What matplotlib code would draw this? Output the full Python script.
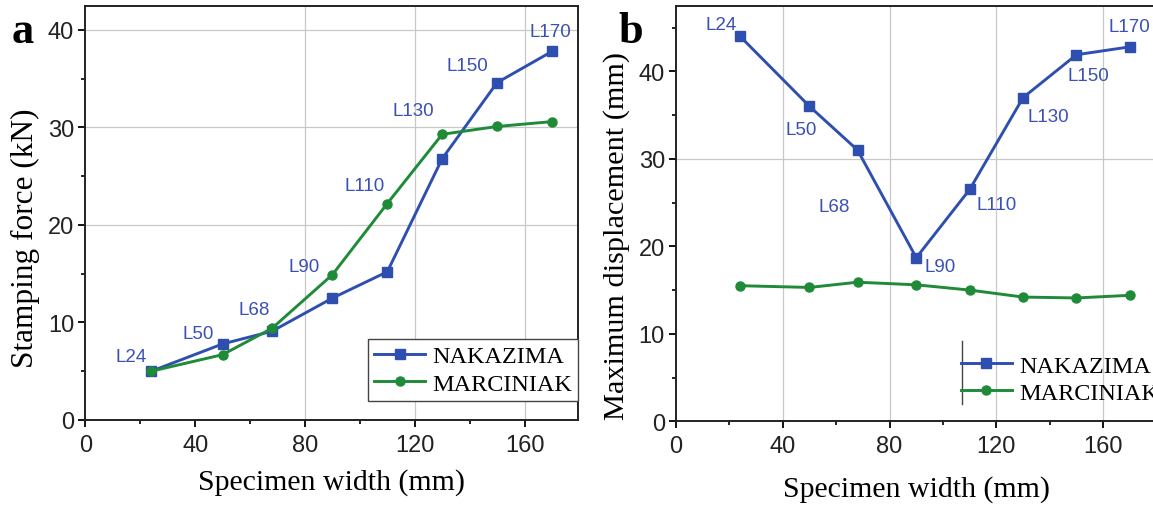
import numpy as np
import matplotlib.pyplot as plt
from matplotlib.ticker import MultipleLocator

# Input data
width = [24, 50, 68, 90, 110, 130, 150, 170]
labels = ['L24', 'L50', 'L68', 'L90', 'L110', 'L130', 'L150', 'L170']
force_nak = [5.0, 7.8, 9.1, 12.5, 15.2, 26.8, 34.6, 37.8]
force_mar = [5.0, 6.7, 9.4, 14.9, 22.2, 29.3, 30.1, 30.6]
disp_nak = [44.0, 36.0, 31.0, 18.7, 26.5, 37.0, 41.9, 42.8]
disp_mar = [15.5, 15.3, 15.9, 15.6, 15.0, 14.2, 14.1, 14.4]

# label offsets (pixels) from the NAKAZIMA points
off_a = [(-20, 15), (-24, 10), (-18, 22), (-28, 32), (-23, 86), (-29, 48), (-30, 17), (-2, 20)]
off_b = [(-19, 12), (-8, -23), (-23, -56), (24, -9), (27, -15), (25, -19), (12, -21), (-1, 20)]

blue = '#2f4fb0'
green = '#1f8a38'
lblue = '#3a50b4'
sans = 'Liberation Sans'
serif = 'Liberation Serif'

fig = plt.figure(figsize=(11.53, 5.06), dpi=100)
ax1 = fig.add_axes([0.074, 0.168, 0.4276, 0.819])
ax2 = fig.add_axes([0.5863, 0.1654, 0.4168, 0.8213])


def style(ax, ymax, minor_y, xpad):
    ax.set_xlim(0, 180 if ax is ax2 else 179.6)
    ax.set_ylim(0, ymax)
    ax.xaxis.set_major_locator(MultipleLocator(40))
    ax.xaxis.set_minor_locator(MultipleLocator(20))
    ax.yaxis.set_major_locator(MultipleLocator(10))
    ax.yaxis.set_minor_locator(MultipleLocator(minor_y))
    ax.tick_params(which='major', direction='out', length=5, width=1.3,
                   labelsize=17, pad=3)
    ax.tick_params(axis='x', which='major', pad=5)
    ax.tick_params(which='minor', direction='out', length=3, width=1.2)
    for t in ax.get_xticklabels() + ax.get_yticklabels():
        t.set_fontfamily(sans)
        t.set_color('#222222')
    for s in ax.spines.values():
        s.set_linewidth(1.4)
        s.set_color('#222222')
    ax.set_xlabel('Specimen width (mm)', fontfamily=serif, fontsize=21.5, labelpad=xpad)


# Panel a
for g in [80, 120, 160]:
    ax1.axvline(g, color='#c8c8c8', lw=0.9, zorder=0)
for g in [20, 30, 40]:
    ax1.axhline(g, color='#c8c8c8', lw=0.9, zorder=0)
ax1.plot(width, force_nak, '-s', color=blue, lw=2.1, ms=6.5, label='NAKAZIMA', zorder=3)
ax1.plot(width, force_mar, '-o', color=green, lw=2.1, ms=6.5, label='MARCINIAK', zorder=3)
for i in range(len(width)):
    ax1.annotate(labels[i], (width[i], force_nak[i]), xytext=off_a[i],
                 textcoords='offset pixels', ha='center', va='center',
                 color=lblue, fontsize=13.5, fontfamily=sans)
style(ax1, 42.5, 5, 9)
ax1.set_ylabel('Stamping force (kN)', fontfamily=serif, fontsize=22.5)
ax1.yaxis.set_label_coords(-0.092, 0.442)
leg1 = ax1.legend(loc='lower right', bbox_to_anchor=(1.0, 0.046), borderaxespad=0,
                  fancybox=False, edgecolor='#444444', framealpha=1,
                  prop={'family': serif, 'size': 17.5}, handlelength=2.1,
                  handletextpad=0.3, borderpad=0.25, labelspacing=0.22)
leg1.get_frame().set_linewidth(1.0)

# Panel b
for g in [40, 80, 120, 160]:
    ax2.axvline(g, color='#c8c8c8', lw=0.9, zorder=0)
ax2.axhline(30, color='#c8c8c8', lw=0.9, zorder=0)
ax2.plot(width, disp_nak, '-s', color=blue, lw=2.1, ms=6.5, label='NAKAZIMA', zorder=3)
ax2.plot(width, disp_mar, '-o', color=green, lw=2.1, ms=6.5, label='MARCINIAK', zorder=3)
for i in range(len(width)):
    ax2.annotate(labels[i], (width[i], disp_nak[i]), xytext=off_b[i],
                 textcoords='offset pixels', ha='center', va='center',
                 color=lblue, fontsize=13.5, fontfamily=sans)
style(ax2, 47.5, 5, 13)
ax2.set_ylabel('Maximum displacement (mm)', fontfamily=serif, fontsize=21.8)
ax2.yaxis.set_label_coords(-0.096, 0.448)
ax2.legend(loc='lower left', bbox_to_anchor=(0.582, 0.03), borderaxespad=0,
           frameon=False, prop={'family': serif, 'size': 17.5}, handlelength=2.1,
           handletextpad=0.3, borderpad=0.2, labelspacing=0.22)
ax2.plot([0.595, 0.595], [0.042, 0.193], color='#444444', lw=1.0,
         transform=ax2.transAxes, clip_on=False)

# Panel letters
fig.text(0.010, 0.915, 'a', fontfamily=serif, fontweight='bold', fontsize=32)
fig.text(0.536, 0.915, 'b', fontfamily=serif, fontweight='bold', fontsize=32)

fig.savefig('out.png', dpi=100)
